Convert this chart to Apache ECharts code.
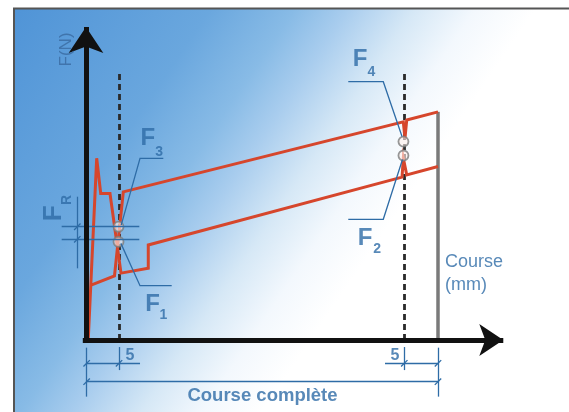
<!DOCTYPE html>
<html>
<head>
<meta charset="utf-8">
<script src="https://cdn.jsdelivr.net/npm/echarts@6/dist/echarts.min.js"></script>
<style>html,body{margin:0;padding:0;background:#fff}#c{width:569px;height:412px}</style>
</head>
<body>
<div id="c"></div>
<script>
// ---- data (x: course in mm, y: force in N) ----
const curveLower = [[0.36,0.5],[1.67,56.8],[2.3,45.8],[3.75,45.8],[5.47,20.9],[9.73,22.4],[9.73,29.7],[49.38,50.9],[49.58,56.8],[50.11,51.6],[50.39,51.6],[55.0,54.2]];
const curveUpper = [[0.89,17.2],[4.45,20.0],[5.83,46.3],[49.58,68.2],[49.84,63.0],[50.11,68.75],[55.0,71.3]];
const dashedX = [5.16, 49.73];
const dashedTop = 84.4;
const courseEnd = 55.0;
const courseEndTop = 71.3;
const axisXEnd = 65.2;
const axisYEnd = 97.8;
const forcePoints = [[5.08,35.4],[5.08,30.7],[49.6,62.0],[49.6,57.66]]; // F3, F1, F4, F2
const leaderToEnd = [
  [[12.08,56.78],[8.44,56.78],[5.5,35.9]],     // F3
  [[40.98,80.72],[46.45,80.72],[49.38,63.6]],  // F4
  [[40.98,37.72],[46.45,37.72],[49.45,56.4]]   // F2
];
const leaderFromStart = [[[5.45,30.2],[8.44,16.97],[13.39,16.97]]]; // F1
const frLevels = [35.4, 31.47];
const frSpan = [-3.8, 8.33];
const frDimX = -1.36;
const frDimRange = [44.78, 22.4];
const extLong = [0.1, 55.0];
const extShort = [5.16, 49.73];
const dimY5 = -7.28;
const dimYFull = -13.03;
const dim5Left = [0.1, 8.44];
const dim5Right = [46.72, 55.0];
const bigF = [[9.67,63.0,'F'],[10.39,11.2,'F'],[42.81,87.8,'F'],[43.59,31.8,'F']];
const subIdx = [[11.41,58.6,'3'],[12.08,7.7,'1'],[44.61,83.6,'4'],[45.5,28.4,'2']];
const dimLabels = [[6.88,-5.0,'5'],[48.28,-5.0,'5']];
const fullLabel = [[27.58,-17.4,'Course complète']];
const xTitle = [[56.09,20.9,'Course\n(mm)']];
const yTitle = [[-3.05,90.8,'F(N)']];
const frLabelF = [[-5.1,39.6,'F']];
const frLabelR = [[-3.0,43.75,'R']];

// ---- helpers ----
const BLUE = '#2e6ca6';
const FONT = '"Liberation Sans", Arial, sans-serif';
function seg(a,b){ return {coords:[a,b]}; }
function slash(x,y){ return seg([x-0.5,y-1.0],[x+0.5,y+1.0]); }

const blueSegs = [];
frLevels.forEach(y => blueSegs.push(seg([frSpan[0],y],[frSpan[1],y])));
blueSegs.push(seg([frDimX,frDimRange[0]],[frDimX,frDimRange[1]]));
frLevels.forEach(y => blueSegs.push(slash(frDimX,y)));
extLong.forEach(x => blueSegs.push(seg([x,-2.4],[x,-17.7])));
extShort.forEach(x => blueSegs.push(seg([x,-2.2],[x,-9.4])));
blueSegs.push(seg([dim5Left[0],dimY5],[dim5Left[1],dimY5]));
blueSegs.push(seg([dim5Right[0],dimY5],[dim5Right[1],dimY5]));
blueSegs.push(seg([extLong[0],dimYFull],[extLong[1],dimYFull]));
[extLong[0],extShort[0],extShort[1],extLong[1]].forEach(x => blueSegs.push(slash(x,dimY5)));
extLong.forEach(x => blueSegs.push(slash(x,dimYFull)));

function textSeries(data, label){
  return {type:'scatter', data:data, symbolSize:0, silent:true, z:10,
    label:Object.assign({show:true, position:'inside', fontFamily:FONT, color:BLUE,
      formatter:p=>p.value[2]}, label)};
}

const chart = echarts.init(document.getElementById('c'), null, {renderer:'canvas'});
chart.setOption({
  animation:false,
  backgroundColor:'#ffffff',
  graphic:[{
    type:'rect', z:-100, silent:true,
    shape:{x:14, y:8.5, width:600, height:450},
    style:{
      fill:new echarts.graphic.LinearGradient(0,0,412,280,[
        {offset:0, color:'#4d92d6'},
        {offset:0.36, color:'#6aa7de'},
        {offset:0.5, color:'#88bbe6'},
        {offset:0.59, color:'#a9cdee'},
        {offset:0.7, color:'#d6e8f6'},
        {offset:0.8, color:'#f3f8fd'},
        {offset:0.9, color:'#ffffff'},
        {offset:1, color:'#ffffff'}
      ], true),
      stroke:'#555555', lineWidth:2
    }
  }],
  grid:{left:0,right:0,top:0,bottom:0},
  xAxis:{type:'value', min:-13.4375, max:75.46875, show:false},
  yAxis:{type:'value', min:-22.5, max:106.25, show:false},
  series:[
    {type:'lines', coordinateSystem:'cartesian2d', silent:true, z:3,
     data:dashedX.map(x=>seg([x,0],[x,dashedTop])),
     lineStyle:{color:'#2a2a2a', width:2.8, type:[6,4], opacity:1}},
    {type:'lines', coordinateSystem:'cartesian2d', silent:true, z:3,
     data:[seg([courseEnd,0],[courseEnd,courseEndTop])],
     lineStyle:{color:'#7a7a7a', width:3.5, opacity:1}},
    {type:'line', data:curveLower, showSymbol:false, silent:true, clip:false, z:4,
     lineStyle:{color:'#d6462c', width:3, join:'miter'}},
    {type:'line', data:curveUpper, showSymbol:false, silent:true, clip:false, z:4,
     lineStyle:{color:'#d6462c', width:3, join:'miter'}},
    {type:'scatter', data:forcePoints, symbol:'circle', symbolSize:10, silent:true, z:5,
     itemStyle:{color:'rgba(255,240,235,0.75)', borderColor:'#7d7d7d', borderWidth:1.8}},
    {type:'lines', coordinateSystem:'cartesian2d', silent:true, z:6,
     data:blueSegs, lineStyle:{color:BLUE, width:1.3, opacity:1}},
    {type:'lines', coordinateSystem:'cartesian2d', polyline:true, silent:true, z:6,
     data:leaderToEnd.map(c=>({coords:c})), symbol:['none','arrow'], symbolSize:[6,10],
     lineStyle:{color:BLUE, width:1.3, opacity:1}},
    {type:'lines', coordinateSystem:'cartesian2d', polyline:true, silent:true, z:6,
     data:leaderFromStart.map(c=>({coords:c})), symbol:['arrow','none'], symbolSize:[6,10],
     lineStyle:{color:BLUE, width:1.3, opacity:1}},
    {type:'lines', coordinateSystem:'cartesian2d', silent:true, z:7,
     data:[seg([-0.5,0],[axisXEnd,0])], symbol:['none','arrow'], symbolSize:[14,24],
     lineStyle:{color:'#111', width:5, opacity:1}},
    {type:'lines', coordinateSystem:'cartesian2d', silent:true, z:7,
     data:[seg([0,-0.7],[0,axisYEnd])], symbol:['none','arrow'], symbolSize:[16,26],
     lineStyle:{color:'#111', width:5, opacity:1}},
    textSeries(bigF, {fontSize:24, fontWeight:'bold'}),
    textSeries(subIdx, {fontSize:14, fontWeight:'bold'}),
    textSeries(dimLabels, {fontSize:16, fontWeight:'bold'}),
    textSeries(fullLabel, {fontSize:18.5, fontWeight:'bold'}),
    textSeries(xTitle, {position:'right', distance:0, fontSize:18, lineHeight:23}),
    textSeries(yTitle, {fontSize:17, rotate:90, color:'#3a6aa0'}),
    textSeries(frLabelF, {fontSize:26, fontWeight:'bold', rotate:90}),
    textSeries(frLabelR, {fontSize:14, fontWeight:'bold', rotate:90})
  ]
});
</script>
</body>
</html>
